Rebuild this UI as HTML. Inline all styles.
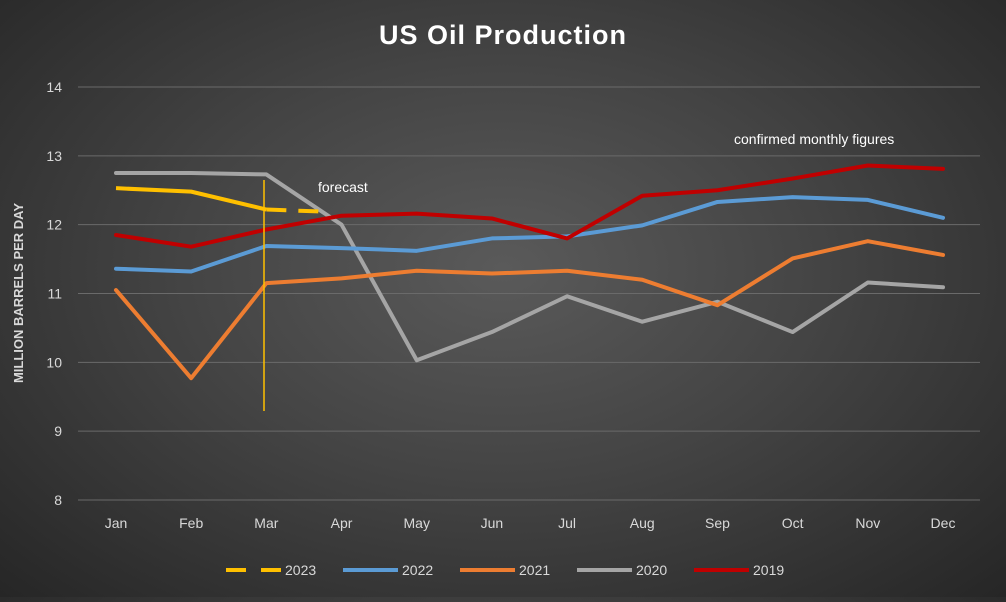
<!DOCTYPE html>
<html><head><meta charset="utf-8"><style>
html,body{margin:0;padding:0;}
body{width:1006px;height:597px;overflow:hidden;background:radial-gradient(ellipse at 50% 45%,#5a5a5a 0%,#444 45%,#262626 100%);font-family:"Liberation Sans",sans-serif;}
</style></head><body>
<svg id="chart" width="1006" height="597" xmlns="http://www.w3.org/2000/svg"></svg>
<script>
const months=["Jan","Feb","Mar","Apr","May","Jun","Jul","Aug","Sep","Oct","Nov","Dec"];
const yTicks=[8,9,10,11,12,13,14];
const s2023=[12.53,12.48,12.22,12.18];
const s2022=[11.36,11.32,11.69,11.66,11.62,11.80,11.83,11.99,12.33,12.40,12.36,12.10];
const s2021=[11.05,9.77,11.15,11.22,11.33,11.29,11.33,11.20,10.83,11.51,11.76,11.56];
const s2020=[12.75,12.75,12.73,12.00,10.03,10.44,10.96,10.59,10.88,10.44,11.16,11.09];
const s2019=[11.85,11.68,11.93,12.13,12.16,12.09,11.80,12.42,12.50,12.67,12.86,12.81];
const NS="http://www.w3.org/2000/svg",svg=document.getElementById('chart');
const X=i=>116+i*(943-116)/11, Y=v=>500-(v-8)*(500-87)/6;
function el(t,a,txt){const e=document.createElementNS(NS,t);for(const k in a)e.setAttribute(k,a[k]);if(txt!=null)e.textContent=txt;svg.appendChild(e);return e;}
let t=el('text',{x:503,y:44,'text-anchor':'middle','font-size':27,'font-weight':'bold',fill:'#fff','letter-spacing':'1'},'US Oil Production');


yTicks.forEach(v=>{
 let g=el('line',{x1:78,x2:980,y1:Y(v),y2:Y(v),stroke:'#6a6a6a','stroke-width':1});
 
 
 let l=el('text',{x:62,y:Y(v)+5,'text-anchor':'end','font-size':14,fill:'#d9d9d9'},v);
 
 
});
months.forEach((m,i)=>{
 let l=el('text',{x:X(i),y:528,'text-anchor':'middle','font-size':14,fill:'#d9d9d9'},m);
 
 
});
t=el('text',{x:0,y:0,transform:'translate(23,293) rotate(-90)','text-anchor':'middle','font-size':13,'font-weight':'bold',fill:'#d9d9d9'},'MILLION BARRELS PER DAY');


function line(arr,col,name){
 let p=el('polyline',{points:arr.map((v,i)=>X(i)+','+Y(v)).join(' '),fill:'none',stroke:col,'stroke-width':4,'stroke-linejoin':'round','stroke-linecap':'round'});
 
 
}
line(s2020,'#a5a5a5','line-2020');
line(s2021,'#ed7d31','line-2021');
line(s2022,'#5b9bd5','line-2022');
line(s2019,'#c00000','line-2019');
let p=el('polyline',{points:s2023.slice(0,3).map((v,i)=>X(i)+','+Y(v)).join(' '),fill:'none',stroke:'#ffc000','stroke-width':4,'stroke-linejoin':'round'});


p=el('line',{x1:X(2),y1:Y(s2023[2]),x2:X(2)+(X(3)-X(2))*0.75,y2:Y(s2023[2])+(Y(s2023[3])-Y(s2023[2]))*0.75,stroke:'#ffc000','stroke-width':4,'stroke-dasharray':'20,12'});


p=el('line',{x1:264,x2:264,y1:180,y2:411,stroke:'#ffc000','stroke-width':1.5});


t=el('text',{x:318,y:192,'font-size':14,fill:'#fff'},'forecast');


t=el('text',{x:734,y:144,'font-size':14,fill:'#fff'},'confirmed monthly figures');


const leg=[["2023","#ffc000",226,true],["2022","#5b9bd5",343],["2021","#ed7d31",460],["2020","#a5a5a5",577],["2019","#c00000",694]];
leg.forEach(([n,c,x,d])=>{
 let l=el('line',{x1:x,x2:x+55,y1:570,y2:570,stroke:c,'stroke-width':4});
 if(d)l.setAttribute('stroke-dasharray','20,15');
 
 
 let tx=el('text',{x:x+59,y:575,'font-size':14,fill:'#d9d9d9'},n);
 
 
});
</script>
</body></html>
